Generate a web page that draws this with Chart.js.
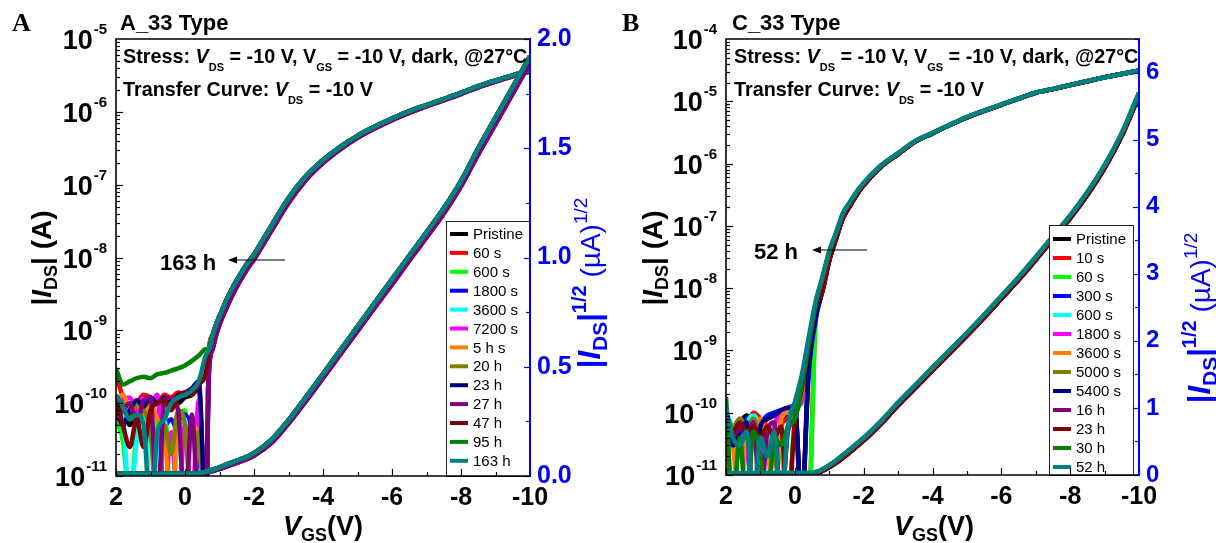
<!DOCTYPE html>
<html><head><meta charset="utf-8">
<script src="https://cdn.jsdelivr.net/npm/chart.js@4.4.0/dist/chart.umd.min.js"></script>
<style>
html,body{margin:0;padding:0;background:#fff;}
#wrap{position:relative;width:1216px;height:543px;overflow:hidden;background:#fff;}
canvas{position:absolute;left:0;top:0;}
</style></head><body>
<div id="wrap"><canvas id="cA" width="1216" height="543"></canvas><canvas id="cB" width="1216" height="543"></canvas></div>
<script>
// ---------------- DATA ----------------
const namesA = ['Pristine','60 s','600 s','1800 s','3600 s','7200 s','5 h s','20 h','23 h','27 h','47 h','95 h','163 h'];
const namesB = ['Pristine','10 s','60 s','300 s','600 s','1800 s','3600 s','5000 s','5400 s','16 h','23 h','30 h','52 h'];
const seriesColors = ['#000000','#ff0000','#00ff00','#0000ff','#00ffff','#ff00ff','#ff8000','#808000','#000080','#800080','#800000','#008000','#008080'];

const xTickLabels = [2, 0, -2, -4, -6, -8, -10];
const logExpA = [-11, -10, -9, -8, -7, -6, -5];
const logExpB = [-11, -10, -9, -8, -7, -6, -5, -4];
const rightTicksA = [0, 0.5, 1.0, 1.5, 2.0];
const rightTicksB = [0, 1, 2, 3, 4, 5, 6];

// Panel A: off-state region (per series), V_GS (V) and |I_DS| (A)
const vgsOffA = [2.0, 1.8, 1.6, 1.4, 1.2, 1.0, 0.8, 0.6, 0.4, 0.2, 0.0, -0.2, -0.4, -0.6];
const idsOffA = [
  [1.0e-10, 8e-11, 5e-11, 9e-11, 1.1e-10, 8e-11, 4e-12, 9e-11, 1.1e-10, 1.0e-10, 1.2e-10, 1.3e-10, 1.6e-10, 3e-12],
  [2.6e-10, 1.2e-10, 9e-11, 1.0e-10, 1.3e-10, 1.2e-10, 1.0e-10, 1.3e-10, 1.2e-10, 1.4e-10, 1.3e-10, 1.5e-10, 1.9e-10, 2.4e-10],
  [6e-11, 3e-11, 5e-12, 4e-11, 1.0e-10, 3e-12, 6e-11, 1.1e-10, 3e-12, 5e-11, 8e-11, 3e-12, 6e-11, 3e-12],
  [6e-11, 9e-11, 1.0e-10, 8e-11, 1.2e-10, 9e-11, 1.1e-10, 5e-11, 6e-11, 4e-11, 7e-11, 4e-11, 2e-11, 3e-12],
  [1.1e-10, 7e-11, 4e-12, 3e-11, 1.1e-10, 5e-12, 2e-11, 6e-11, 4e-12, 3e-11, 6e-11, 4e-12, 5e-11, 3e-12],
  [7e-11, 1.1e-10, 1.2e-10, 8e-11, 1.2e-10, 1.0e-10, 1.3e-10, 5e-12, 4e-11, 3e-12, 5e-11, 4e-12, 1.1e-10, 3e-12],
  [1.0e-10, 1.3e-10, 9e-11, 1.1e-10, 7e-11, 1.0e-10, 6e-11, 4e-11, 3e-12, 6e-11, 3e-12, 5e-11, 3e-11, 3e-12],
  [8e-11, 1.0e-10, 6e-11, 1.0e-10, 8e-11, 4e-11, 3e-12, 5e-11, 2e-11, 8e-11, 5e-11, 3e-12, 4e-11, 3e-12],
  [9e-11, 5e-11, 8e-11, 1.1e-10, 9e-11, 1.2e-10, 1.0e-10, 1.2e-10, 9e-11, 1.3e-10, 1.4e-10, 1.6e-10, 2.0e-10, 3e-12],
  [6e-11, 8e-11, 1.0e-10, 5e-11, 1.1e-10, 1.2e-10, 3e-12, 1.1e-10, 1.2e-10, 8e-11, 3e-12, 7e-11, 3e-12, 3e-12],
  [1.2e-10, 5e-11, 2.5e-11, 6e-11, 2.5e-11, 8e-11, 1.0e-10, 1.1e-10, 8e-11, 1.2e-10, 1.4e-10, 1.3e-10, 1.8e-10, 2.6e-10],
  [3.0e-10, 1.8e-10, 2.0e-10, 2.2e-10, 2.3e-10, 2.2e-10, 2.5e-10, 2.6e-10, 2.8e-10, 3.0e-10, 3.3e-10, 3.8e-10, 4.5e-10, 5.5e-10],
  [1.3e-10, 9e-11, 6e-11, 7e-11, 5e-11, 3e-12, 4e-11, 6e-11, 1.0e-10, 1.2e-10, 1.3e-10, 1.5e-10, 2.0e-10, 4.5e-10]
];
// Panel A: on-state region (curves overlap; two slightly offset groups)
const vgsOnA = [-0.7, -0.8, -0.9, -1.0, -1.2, -1.4, -1.6, -1.8, -2.0, -2.5, -3.0, -3.5, -4.0, -4.5, -5.0, -5.5, -6.0, -6.5, -7.0, -7.5, -8.0, -8.5, -9.0, -9.5, -10.0];
const idsOnLateA = [5.5e-10, 8.5e-10, 1.2e-9, 1.55e-9, 2.6e-9, 4.0e-9, 5.8e-9, 8.2e-9, 1.1e-8, 2.7e-8, 6.5e-8, 1.3e-7, 2.18e-7, 3.31e-7, 4.68e-7, 6.27e-7, 8.1e-7, 1.02e-6, 1.24e-6, 1.50e-6, 1.82e-6, 2.25e-6, 2.69e-6, 3.17e-6, 3.69e-6];
const idsOnEarlyA = [3.0e-10, 5.5e-10, 8.5e-10, 1.2e-9, 2.0e-9, 3.2e-9, 4.8e-9, 6.9e-9, 9.4e-9, 2.3e-8, 5.6e-8, 1.15e-7, 1.98e-7, 3.05e-7, 4.38e-7, 5.9e-7, 7.7e-7, 9.7e-7, 1.19e-6, 1.44e-6, 1.75e-6, 2.17e-6, 2.6e-6, 3.08e-6, 3.6e-6];
const earlySeriesA = [8, 9];
// Panel A: |I_DS|^1/2 (uA^1/2)
const vgsSqA = [2.0, -0.4, -0.7, -1.0, -1.5, -2.0, -2.5, -3.0, -3.5, -4.0, -4.5, -5.0, -5.5, -6.0, -6.5, -7.0, -7.5, -8.0, -8.5, -9.0, -9.5, -10.0];
const sqrtLateA = [0.01, 0.012, 0.024, 0.04, 0.07, 0.105, 0.165, 0.255, 0.36, 0.467, 0.575, 0.684, 0.792, 0.90, 1.008, 1.115, 1.225, 1.35, 1.50, 1.64, 1.78, 1.92];
const sqrtEarlyA = [0.01, 0.01, 0.018, 0.032, 0.06, 0.093, 0.15, 0.24, 0.342, 0.448, 0.555, 0.663, 0.77, 0.877, 0.985, 1.092, 1.2, 1.325, 1.472, 1.61, 1.75, 1.89];

// Panel B
const vgsOffB = [2.0, 1.8, 1.6, 1.4, 1.2, 1.0, 0.8, 0.6, 0.4, 0.2, 0.0, -0.2, -0.4, -0.6];
const idsOffB = [
  [8e-11, 6e-11, 7e-11, 9e-11, 7e-11, 6e-11, 8e-11, 9e-11, 7e-11, 9e-11, 1.0e-10, 3e-12, 6e-10, 3.5e-9],
  [6e-11, 4e-11, 8e-11, 7e-11, 1.0e-10, 8e-11, 5e-11, 3e-12, 6e-11, 8e-11, 1.1e-10, 3e-12, 3e-12, 3.0e-9],
  [5e-11, 3e-11, 5e-11, 3e-12, 7e-11, 4e-11, 3e-12, 5e-11, 3e-11, 3e-12, 6e-11, 3e-12, 3e-12, 2.5e-9],
  [7e-11, 4e-11, 6e-11, 8e-11, 6e-11, 7e-11, 9e-11, 1.0e-10, 1.1e-10, 1.2e-10, 1.3e-10, 3e-12, 4e-10, 3.0e-9],
  [9e-11, 5e-11, 3e-12, 6e-11, 9e-11, 6e-11, 3e-11, 6e-11, 1.0e-10, 1.1e-10, 1.2e-10, 1.4e-10, 7e-10, 4.0e-9],
  [6e-11, 3e-12, 5e-11, 3e-11, 3e-12, 5e-11, 3e-12, 6e-11, 9e-11, 1.2e-10, 1.3e-10, 1.5e-10, 8e-10, 4.0e-9],
  [8e-11, 3e-11, 3e-12, 7e-11, 5e-11, 8e-11, 3e-11, 3e-12, 8e-11, 1.0e-10, 1.1e-10, 2e-10, 9e-10, 4.5e-9],
  [9e-11, 6e-11, 8e-11, 6e-11, 8e-11, 4e-11, 6e-11, 3e-11, 3e-12, 6e-11, 9e-11, 2e-10, 1.0e-9, 4.5e-9],
  [7e-11, 3e-11, 5e-11, 7e-11, 3e-12, 6e-11, 8e-11, 9e-11, 1.1e-10, 1.2e-10, 1.2e-10, 3e-12, 5e-10, 3.5e-9],
  [8e-11, 4e-11, 6e-11, 4e-11, 7e-11, 3e-12, 5e-11, 7e-11, 3e-12, 5e-11, 8e-11, 2.5e-10, 1.1e-9, 5e-9],
  [6e-11, 5e-11, 7e-11, 5e-11, 6e-11, 4e-11, 6e-11, 4e-11, 6e-11, 3e-12, 7e-11, 2.5e-10, 1.2e-9, 5e-9],
  [1.8e-10, 3e-12, 4e-11, 3e-12, 5e-11, 2e-11, 3e-12, 4e-11, 3e-11, 6e-11, 8e-11, 2.8e-10, 1.3e-9, 5.5e-9],
  [1.2e-10, 4e-11, 3e-11, 5e-11, 3e-12, 4e-11, 2e-11, 5e-11, 3e-12, 6e-11, 1.5e-10, 4e-10, 1.6e-9, 6e-9]
];
const vgsOnB = [-0.8, -1.0, -1.2, -1.4, -1.6, -1.8, -2.0, -2.5, -3.0, -3.5, -4.0, -4.5, -5.0, -5.5, -6.0, -6.5, -7.0, -7.5, -8.0, -8.5, -9.0, -9.5, -10.0];
const idsOnLateB = [1.48e-8, 3.9e-8, 7.8e-8, 1.6e-7, 2.4e-7, 3.55e-7, 4.9e-7, 9.3e-7, 1.47e-6, 2.3e-6, 3.1e-6, 4.2e-6, 5.6e-6, 7.06e-6, 8.9e-6, 1.11e-5, 1.38e-5, 1.58e-5, 1.83e-5, 2.11e-5, 2.43e-5, 2.75e-5, 3.1e-5];
const idsOnEarlyB = [9e-9, 2.8e-8, 6.3e-8, 1.35e-7, 2.1e-7, 3.2e-7, 4.5e-7, 8.9e-7, 1.42e-6, 2.25e-6, 3.05e-6, 4.15e-6, 5.5e-6, 7.0e-6, 8.8e-6, 1.1e-5, 1.37e-5, 1.57e-5, 1.82e-5, 2.1e-5, 2.42e-5, 2.74e-5, 3.09e-5];
const earlySeriesB = [0, 1, 2, 3, 4, 5, 6, 7, 8, 9, 10];
const vgsSqB = [2.0, -0.4, -0.7, -1.1, -1.5, -2.1, -2.5, -3.0, -3.5, -4.0, -4.5, -5.0, -5.5, -6.0, -6.5, -7.0, -7.5, -8.0, -8.5, -9.0, -9.5, -10.0];
const sqrtLateB = [0.025, 0.03, 0.06, 0.18, 0.34, 0.60, 0.80, 1.08, 1.34, 1.60, 1.86, 2.12, 2.39, 2.67, 2.95, 3.25, 3.56, 3.87, 4.22, 4.62, 5.10, 5.70];
const sqrtEarlyB = [0.025, 0.025, 0.04, 0.15, 0.30, 0.56, 0.76, 1.04, 1.30, 1.56, 1.82, 2.08, 2.35, 2.63, 2.91, 3.21, 3.52, 3.83, 4.18, 4.58, 5.06, 5.66];

// ---------------- RENDERING ----------------
const FAM = 'Arial, "Liberation Sans", sans-serif';
function fnt(size, bold = true, italic = false, fam = FAM) {
  return (italic ? 'italic ' : '') + (bold ? 'bold ' : '') + size + 'px ' + fam;
}
function partsWidth(ctx, parts) {
  let w = 0;
  for (const p of parts) { ctx.font = p.f; w += ctx.measureText(p.t).width; }
  return w;
}
function drawParts(ctx, parts, x, y, color) {
  let cx = x;
  ctx.textBaseline = 'alphabetic'; ctx.textAlign = 'left';
  for (const p of parts) {
    ctx.font = p.f; ctx.fillStyle = p.c || color || '#000';
    ctx.fillText(p.t, cx, y + (p.dy || 0));
    cx += ctx.measureText(p.t).width;
  }
}
function drawRotated(ctx, parts, cx, cy, baseOff, color) {
  ctx.save();
  ctx.translate(cx, cy); ctx.rotate(-Math.PI / 2);
  const w = partsWidth(ctx, parts);
  drawParts(ctx, parts, -w / 2, baseOff, color);
  ctx.restore();
}
function line(ctx, x1, y1, x2, y2) { ctx.beginPath(); ctx.moveTo(x1, y1); ctx.lineTo(x2, y2); ctx.stroke(); }

function makeDeco(P) {
  return {
    id: 'deco' + P.id,
    afterDatasetsDraw(chart) {
      const ctx = chart.ctx, a = chart.chartArea;
      const sx = chart.scales.x, sl = chart.scales.yL, sr = chart.scales.yR;
      ctx.save();
      // legend box
      const L = P.legend;
      ctx.fillStyle = '#fff'; ctx.fillRect(L.x, L.y, L.w, L.h);
      ctx.strokeStyle = '#222'; ctx.lineWidth = 1; ctx.strokeRect(L.x + 0.5, L.y + 0.5, L.w, L.h);
      P.names.forEach((n, i) => {
        const yy = L.y0 + i * L.dy;
        ctx.strokeStyle = seriesColors[i]; ctx.lineWidth = 4;
        line(ctx, L.sx0, yy, L.sx1, yy);
        ctx.fillStyle = '#000'; ctx.font = fnt(15, false); ctx.textBaseline = 'middle'; ctx.textAlign = 'left';
        ctx.fillText(n, L.tx, yy + 1);
      });
      // tick marks: left log axis
      ctx.strokeStyle = '#000'; ctx.lineWidth = 1.2;
      for (let e = P.logExp[0]; e < P.logExp[P.logExp.length - 1]; e++) {
        for (let k = 1; k < 10; k++) {
          const py = Math.round(sl.getPixelForValue(k * Math.pow(10, e))) + 0.5;
          line(ctx, a.left, py, a.left + (k === 1 ? 7 : 4), py);
        }
      }
      // bottom ticks
      for (let v = -10; v <= 2; v += 1) {
        const px = Math.round(sx.getPixelForValue(v)) + 0.5;
        line(ctx, px, a.bottom, px, a.bottom - (v % 2 === 0 ? 7 : 4));
      }
      // right ticks (blue)
      ctx.strokeStyle = '#0000ff';
      for (let v = 0; v <= P.rMax + 1e-9; v += P.rMinor) {
        const py = Math.round(sr.getPixelForValue(v)) + 0.5;
        const major = Math.abs(v / P.rStep - Math.round(v / P.rStep)) < 1e-6;
        line(ctx, a.right, py, a.right - (major ? 6 : 4), py);
      }
      // frame
      ctx.strokeStyle = '#000'; ctx.lineWidth = 1.6;
      ctx.beginPath(); ctx.moveTo(a.right, a.top); ctx.lineTo(a.left, a.top); ctx.lineTo(a.left, a.bottom); ctx.lineTo(a.right, a.bottom); ctx.stroke();
      ctx.strokeStyle = '#0000ff'; ctx.lineWidth = 2;
      line(ctx, a.right, a.top - 1, a.right, a.bottom + 1);

      // left log tick labels 10^n
      for (const e of P.logExp) {
        const py = sl.getPixelForValue(Math.pow(10, e));
        const sup = String(e);
        ctx.font = fnt(27); const w10 = ctx.measureText('10').width;
        ctx.font = fnt(15); const ws = ctx.measureText(sup).width;
        const x0 = a.left - 10 - ws - w10;
        ctx.fillStyle = '#000'; ctx.textBaseline = 'alphabetic'; ctx.textAlign = 'left';
        ctx.font = fnt(27); ctx.fillText('10', x0, py + 10);
        ctx.font = fnt(15); ctx.fillText(sup, x0 + w10 + 1, py - 5);
      }

      // panel letter and title
      ctx.fillStyle = '#000'; ctx.textBaseline = 'alphabetic'; ctx.textAlign = 'left';
      ctx.font = fnt(26, true, false, '"Liberation Serif", "Times New Roman", serif');
      ctx.fillText(P.letter, P.letterX, 31);
      ctx.font = fnt(22); ctx.fillText(P.title, P.titleX, 30);

      // annotations
      const b19 = fnt(19.8), bi19 = fnt(19.8, true, true), s11 = fnt(11);
      drawParts(ctx, [
        { t: 'Stress: ', f: b19 }, { t: 'V', f: bi19 }, { t: 'DS', f: s11, dy: 8 },
        { t: ' = -10 V, V', f: b19 }, { t: 'GS', f: s11, dy: 8 },
        { t: ' = -10 V, dark, @27\u00B0C', f: b19 }
      ], P.annX, 63);
      drawParts(ctx, [
        { t: 'Transfer Curve: ', f: b19 }, { t: 'V', f: bi19 }, { t: 'DS', f: s11, dy: 8 },
        { t: ' = -10 V', f: b19 }
      ], P.annX, 96);
      ctx.font = fnt(22); ctx.fillStyle = '#000'; ctx.fillText(P.arrowLabel, P.arrow.tx, P.arrow.ty);
      ctx.strokeStyle = '#000'; ctx.lineWidth = 1.2;
      line(ctx, P.arrow.x1, P.arrow.y, P.arrow.x2 + 4, P.arrow.y);
      ctx.beginPath(); ctx.moveTo(P.arrow.x2, P.arrow.y); ctx.lineTo(P.arrow.x2 + 9, P.arrow.y - 3.5); ctx.lineTo(P.arrow.x2 + 9, P.arrow.y + 3.5); ctx.closePath(); ctx.fill();

      // axis titles
      drawRotated(ctx, [
        { t: '|', f: fnt(28) }, { t: 'I', f: fnt(28, true, true) }, { t: 'DS', f: fnt(18), dy: 6 }, { t: '| (A)', f: fnt(28) }
      ], P.lTitle.x, P.lTitle.y, 10, '#000');
      const xt = [{ t: 'V', f: fnt(27, true, true) }, { t: 'GS', f: fnt(18), dy: 6 }, { t: '(V)', f: fnt(27) }];
      drawParts(ctx, xt, P.xTitle.x - partsWidth(ctx, xt) / 2, P.xTitle.y, '#000');
      drawRotated(ctx, [
        { t: '|', f: fnt(31) }, { t: 'I', f: fnt(31, true, true) }, { t: 'DS', f: fnt(21), dy: 7 }, { t: '|', f: fnt(31) },
        { t: '1/2', f: fnt(20), dy: -14 }, { t: ' (\u00B5A)', f: fnt(28, false) }, { t: '1/2', f: fnt(19, false), dy: -13 }
      ], P.rTitle.x, P.rTitle.y, 11, '#0000ff');
      ctx.restore();
    }
  };
}

function buildChart(canvasId, P) {
  const datasets = [];
  P.names.forEach((name, i) => {
    const early = P.early.includes(i);
    const on = early ? P.idsOnEarly : P.idsOnLate;
    const pts = P.vOff.map((v, j) => ({ x: v, y: P.idsOff[i][j] }))
      .concat(P.vOn.map((v, j) => ({ x: v, y: on[j] })));
    datasets.push({ label: name, data: pts, yAxisID: 'yL', borderColor: seriesColors[i], backgroundColor: seriesColors[i],
      borderWidth: 4.5, pointRadius: 0, cubicInterpolationMode: 'monotone', fill: false, order: 100 + P.names.length - i });
  });
  P.names.forEach((name, i) => {
    const sq = P.early.includes(i) ? P.sqrtEarly : P.sqrtLate;
    const pts = P.vSq.map((v, j) => ({ x: v, y: sq[j] }));
    datasets.push({ label: name + ' (sqrt)', data: pts, yAxisID: 'yR', borderColor: seriesColors[i], backgroundColor: seriesColors[i],
      borderWidth: 4.5, pointRadius: 0, cubicInterpolationMode: 'monotone', fill: false, order: P.names.length - i });
  });
  return new Chart(document.getElementById(canvasId), {
    type: 'line',
    data: { datasets },
    options: {
      responsive: false, animation: false, events: [],
      layout: { padding: { left: P.padL, right: P.padR, top: 39, bottom: P.padB } },
      plugins: { legend: { display: false }, tooltip: { enabled: false }, title: { display: false } },
      scales: {
        x: {
          type: 'linear', reverse: true, min: -10, max: 2, position: 'bottom',
          ticks: { stepSize: 2, autoSkip: false, maxRotation: 0, padding: 7, color: '#000',
            font: { family: FAM, size: 25, weight: 'bold' },
            callback: (v) => xTickLabels.includes(v) ? String(v) : '' },
          grid: { display: false, drawTicks: false }, border: { display: false },
          afterFit: (s) => { s.height = 60; }
        },
        yL: {
          type: 'logarithmic', position: 'left', min: Math.pow(10, P.logExp[0]), max: Math.pow(10, P.logExp[P.logExp.length - 1]),
          ticks: { display: false }, grid: { display: false, drawTicks: false }, border: { display: false },
          afterFit: (s) => { s.width = 116; }
        },
        yR: {
          type: 'linear', position: 'right', min: 0, max: P.rMax,
          ticks: { stepSize: P.rStep, autoSkip: false, padding: 7, color: '#0000ff',
            font: { family: FAM, size: P.rFont, weight: 'bold' },
            callback: (v) => { const t = P.rTicks.find(r => Math.abs(r - v) < 1e-9); return t === undefined ? '' : P.rFmt(t); } },
          grid: { display: false, drawTicks: false }, border: { display: false },
          afterFit: (s) => { s.width = 60; }
        }
      }
    },
    plugins: [makeDeco(P)]
  });
}

buildChart('cA', {
  id: 'A', names: namesA, vOff: vgsOffA, idsOff: idsOffA, vOn: vgsOnA, idsOnLate: idsOnLateA, idsOnEarly: idsOnEarlyA,
  early: earlySeriesA, vSq: vgsSqA, sqrtLate: sqrtLateA, sqrtEarly: sqrtEarlyA,
  logExp: logExpA, rTicks: rightTicksA, rFmt: (t) => t.toFixed(1), rMax: 2, rStep: 0.5, rMinor: 0.25, rFont: 25,
  padL: 0, padR: 626, padB: 7,
  letter: 'A', letterX: 12, title: 'A_33 Type', titleX: 120, annX: 123,
  arrowLabel: '163 h', arrow: { tx: 160, ty: 270, x1: 285, x2: 228, y: 260 },
  legend: { x: 446, y: 221, w: 83, h: 255, y0: 234, dy: 18.9, sx0: 450, sx1: 468, tx: 473 },
  lTitle: { x: 41, y: 258 }, xTitle: { x: 323, y: 535 }, rTitle: { x: 589, y: 283 }
});
buildChart('cB', {
  id: 'B', names: namesB, vOff: vgsOffB, idsOff: idsOffB, vOn: vgsOnB, idsOnLate: idsOnLateB, idsOnEarly: idsOnEarlyB,
  early: earlySeriesB, vSq: vgsSqB, sqrtLate: sqrtLateB, sqrtEarly: sqrtEarlyB,
  logExp: logExpB, rTicks: rightTicksB, rFmt: (t) => String(t), rMax: 6.5, rStep: 1, rMinor: 0.5, rFont: 24,
  padL: 610, padR: 17, padB: 8,
  letter: 'B', letterX: 622, title: 'C_33 Type', titleX: 732, annX: 734,
  arrowLabel: '52 h', arrow: { tx: 754, ty: 259, x1: 867, x2: 812, y: 250 },
  legend: { x: 1049, y: 225, w: 84, h: 250, y0: 239, dy: 19.0, sx0: 1053, sx1: 1071, tx: 1076 },
  lTitle: { x: 652, y: 258 }, xTitle: { x: 934, y: 535 }, rTitle: { x: 1199, y: 318 }
});
</script>
</body></html>
